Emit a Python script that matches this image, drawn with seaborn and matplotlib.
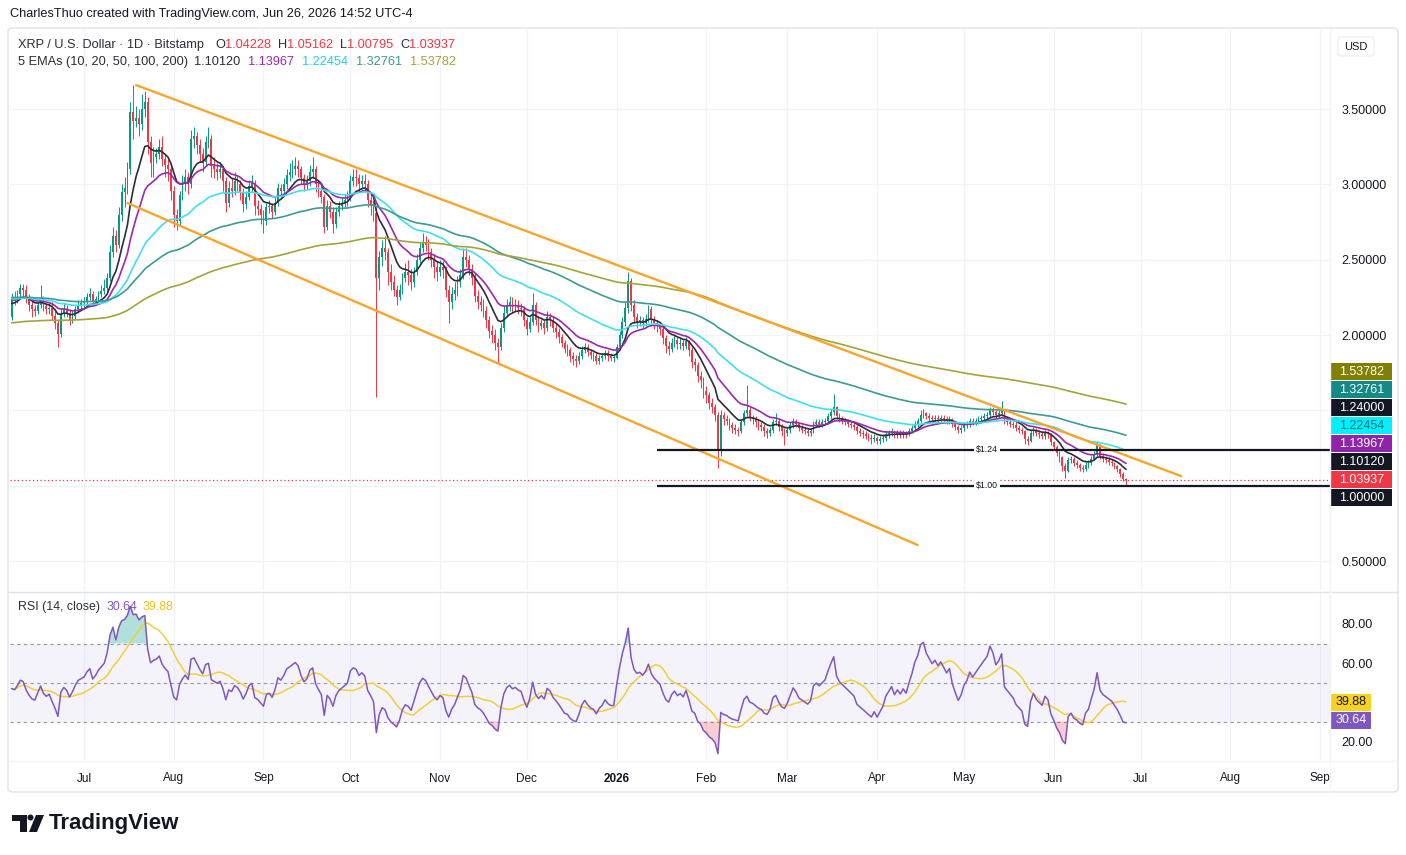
"""
XRP / USD daily chart (TradingView style) rebuilt with seaborn + matplotlib.
Candles, 5 EMAs, a falling channel, two support levels and an RSI pane.
"""
import datetime as dt

import numpy as np
import pandas as pd
import matplotlib
matplotlib.use("Agg")
import matplotlib.pyplot as plt
import matplotlib.dates as mdates
from matplotlib.patches import Rectangle, FancyBboxPatch, Ellipse, Polygon
from matplotlib.lines import Line2D
import seaborn as sns

# ---------------------------------------------------------------- data
start_date = "2025-06-06"
first_open = 2.12

close_jun25 = [2.25, 2.24, 2.27, 2.31, 2.30, 2.24, 2.20, 2.17, 2.16, 2.20, 2.24, 2.19, 2.17, 2.18, 2.13,
               2.08, 2.01, 2.14, 2.17, 2.15, 2.10, 2.13, 2.17, 2.20, 2.21]
close_jul25 = [2.22, 2.25, 2.27, 2.22, 2.24, 2.27, 2.29, 2.31, 2.38, 2.55, 2.66, 2.60, 2.80, 2.95, 2.98,
               3.10, 3.48, 3.42, 3.44, 3.40, 3.50, 3.55, 3.28, 3.14, 3.18, 3.20, 3.25, 3.17, 3.13, 3.10, 2.96]
close_aug25 = [2.80, 2.76, 2.93, 3.00, 3.05, 3.00, 3.30, 3.32, 3.26, 3.20, 3.15, 3.28, 3.30, 3.12, 3.10,
               3.08, 3.10, 3.02, 2.88, 2.98, 2.96, 3.02, 3.00, 2.95, 2.87, 2.92, 2.99, 3.01, 2.86, 2.84, 2.80]
close_sep25 = [2.76, 2.85, 2.86, 2.82, 2.88, 2.98, 2.96, 3.00, 3.06, 3.08, 3.10, 3.12, 3.10, 3.04, 3.00,
               3.02, 3.08, 3.10, 3.00, 2.96, 2.92, 2.72, 2.86, 2.82, 2.74, 2.82, 2.86, 2.88, 2.90, 2.92]
close_oct25 = [3.02, 3.05, 3.04, 3.00, 3.02, 3.00, 2.90, 2.86, 2.81, 2.38, 2.52, 2.58, 2.55, 2.42, 2.35,
               2.30, 2.25, 2.30, 2.38, 2.42, 2.40, 2.35, 2.42, 2.50, 2.58, 2.62, 2.60, 2.55, 2.50, 2.45, 2.42]
close_nov25 = [2.45, 2.43, 2.30, 2.22, 2.27, 2.30, 2.35, 2.40, 2.52, 2.50, 2.44, 2.38, 2.26, 2.22, 2.20,
               2.16, 2.10, 2.03, 2.00, 1.95, 1.92, 2.05, 2.15, 2.20, 2.22, 2.19, 2.20, 2.18, 2.17, 2.10]
close_dec25 = [2.04, 2.09, 2.20, 2.10, 2.06, 2.08, 2.05, 2.12, 2.10, 2.05, 2.02, 1.99, 1.95, 1.91, 1.90,
               1.86, 1.84, 1.83, 1.86, 1.90, 1.92, 1.89, 1.87, 1.86, 1.83, 1.85, 1.86, 1.88, 1.86, 1.85, 1.85]
close_jan26 = [1.92, 2.00, 2.09, 2.18, 2.36, 2.20, 2.12, 2.09, 2.10, 2.08, 2.11, 2.17, 2.11, 2.08, 2.06,
               2.04, 1.98, 1.93, 1.91, 1.95, 1.97, 1.94, 1.95, 1.93, 1.96, 1.90, 1.82, 1.80, 1.73, 1.70, 1.63]
close_feb26 = [1.60, 1.55, 1.52, 1.47, 1.23, 1.47, 1.44, 1.43, 1.40, 1.38, 1.37, 1.36, 1.42, 1.48, 1.50,
               1.45, 1.44, 1.42, 1.40, 1.39, 1.36, 1.35, 1.37, 1.42, 1.43, 1.39, 1.36, 1.35]
close_mar26 = [1.37, 1.40, 1.43, 1.41, 1.38, 1.37, 1.36, 1.35, 1.36, 1.41, 1.42, 1.41, 1.42, 1.43, 1.46,
               1.49, 1.52, 1.46, 1.44, 1.43, 1.42, 1.41, 1.40, 1.39, 1.36, 1.35, 1.34, 1.33, 1.32, 1.31, 1.32]
close_apr26 = [1.30, 1.31, 1.32, 1.34, 1.35, 1.36, 1.34, 1.35, 1.34, 1.35, 1.34, 1.36, 1.38, 1.41, 1.43,
               1.47, 1.48, 1.46, 1.45, 1.44, 1.45, 1.44, 1.45, 1.44, 1.43, 1.44, 1.41, 1.39, 1.37, 1.38]
close_may26 = [1.40, 1.41, 1.43, 1.42, 1.43, 1.44, 1.45, 1.46, 1.47, 1.50, 1.49, 1.47, 1.48, 1.50, 1.43,
               1.42, 1.41, 1.40, 1.38, 1.37, 1.36, 1.31, 1.30, 1.35, 1.37, 1.35, 1.34, 1.33, 1.35, 1.34, 1.29]
close_jun26 = [1.26, 1.22, 1.19, 1.13, 1.10, 1.17, 1.18, 1.15, 1.14, 1.12, 1.11, 1.14, 1.15, 1.18, 1.21,
               1.27, 1.20, 1.18, 1.17, 1.16, 1.15, 1.13, 1.11, 1.08, 1.04228, 1.03937]

high_jun25 = [2.28, 2.29, 2.30, 2.34, 2.34, 2.33, 2.27, 2.23, 2.20, 2.22, 2.33, 2.26, 2.21, 2.21, 2.22,
              2.16, 2.10, 2.17, 2.21, 2.20, 2.17, 2.16, 2.19, 2.23, 2.24]
high_jul25 = [2.25, 2.28, 2.31, 2.29, 2.26, 2.29, 2.33, 2.37, 2.41, 2.60, 2.72, 2.70, 2.85, 3.00, 3.05,
              3.15, 3.55, 3.66, 3.52, 3.50, 3.60, 3.62, 3.58, 3.32, 3.25, 3.24, 3.30, 3.32, 3.20, 3.18, 3.13]
high_aug25 = [2.99, 2.84, 2.96, 3.06, 3.10, 3.08, 3.36, 3.38, 3.35, 3.30, 3.24, 3.32, 3.38, 3.33, 3.18,
              3.14, 3.15, 3.12, 3.05, 3.02, 3.04, 3.08, 3.06, 3.03, 2.98, 2.96, 3.03, 3.06, 3.03, 2.90, 2.87]
high_sep25 = [2.83, 2.88, 2.90, 2.88, 2.92, 3.01, 3.00, 3.04, 3.10, 3.14, 3.16, 3.18, 3.16, 3.12, 3.07,
              3.06, 3.13, 3.18, 3.12, 3.03, 2.99, 2.94, 2.90, 2.89, 2.85, 2.85, 2.89, 2.91, 2.94, 2.96]
high_oct25 = [3.06, 3.10, 3.10, 3.07, 3.06, 3.07, 3.03, 2.94, 2.89, 2.85, 2.56, 2.63, 2.66, 2.58, 2.47,
              2.40, 2.33, 2.34, 2.41, 2.48, 2.50, 2.44, 2.45, 2.54, 2.62, 2.68, 2.66, 2.64, 2.58, 2.54, 2.49]
high_nov25 = [2.50, 2.49, 2.46, 2.33, 2.32, 2.35, 2.39, 2.44, 2.58, 2.58, 2.53, 2.47, 2.41, 2.30, 2.26,
              2.24, 2.19, 2.13, 2.07, 2.04, 1.98, 2.08, 2.19, 2.24, 2.26, 2.25, 2.24, 2.23, 2.21, 2.19]
high_dec25 = [2.12, 2.12, 2.28, 2.22, 2.13, 2.11, 2.10, 2.16, 2.15, 2.13, 2.08, 2.05, 2.01, 1.97, 1.94,
              1.92, 1.89, 1.87, 1.89, 1.93, 1.95, 1.94, 1.91, 1.89, 1.88, 1.87, 1.88, 1.90, 1.90, 1.88, 1.87]
high_jan26 = [1.94, 2.03, 2.12, 2.22, 2.42, 2.38, 2.23, 2.15, 2.13, 2.12, 2.14, 2.20, 2.19, 2.13, 2.10,
              2.08, 2.06, 2.00, 1.96, 1.98, 2.00, 1.99, 1.98, 1.97, 1.99, 1.97, 1.92, 1.85, 1.82, 1.76, 1.72]
high_feb26 = [1.66, 1.62, 1.58, 1.54, 1.49, 1.50, 1.49, 1.47, 1.45, 1.42, 1.41, 1.39, 1.44, 1.50, 1.67,
              1.52, 1.47, 1.46, 1.44, 1.42, 1.41, 1.38, 1.39, 1.44, 1.48, 1.44, 1.41, 1.38]
high_mar26 = [1.39, 1.42, 1.45, 1.44, 1.42, 1.40, 1.39, 1.38, 1.38, 1.43, 1.44, 1.44, 1.44, 1.45, 1.48,
              1.51, 1.61, 1.53, 1.48, 1.46, 1.45, 1.44, 1.43, 1.42, 1.40, 1.38, 1.37, 1.36, 1.35, 1.34, 1.34]
high_apr26 = [1.33, 1.33, 1.34, 1.36, 1.37, 1.38, 1.37, 1.37, 1.37, 1.37, 1.36, 1.38, 1.40, 1.43, 1.45,
              1.50, 1.51, 1.49, 1.48, 1.47, 1.47, 1.47, 1.47, 1.47, 1.46, 1.46, 1.45, 1.42, 1.40, 1.40]
high_may26 = [1.42, 1.43, 1.45, 1.45, 1.45, 1.46, 1.47, 1.48, 1.49, 1.52, 1.52, 1.51, 1.50, 1.56, 1.51,
              1.45, 1.44, 1.43, 1.42, 1.40, 1.39, 1.37, 1.33, 1.37, 1.39, 1.38, 1.37, 1.36, 1.37, 1.36, 1.35]
high_jun26 = [1.30, 1.27, 1.23, 1.20, 1.15, 1.19, 1.20, 1.19, 1.17, 1.15, 1.14, 1.16, 1.17, 1.20, 1.23,
              1.30, 1.28, 1.22, 1.20, 1.19, 1.18, 1.16, 1.14, 1.12, 1.09, 1.05162]

low_jun25 = [2.10, 2.20, 2.21, 2.25, 2.26, 2.21, 2.16, 2.12, 2.13, 2.14, 2.18, 2.16, 2.14, 2.14, 2.10,
             2.04, 1.92, 1.99, 2.12, 2.12, 2.07, 2.08, 2.11, 2.15, 2.17]
low_jul25 = [2.18, 2.19, 2.23, 2.19, 2.20, 2.22, 2.25, 2.27, 2.29, 2.36, 2.52, 2.55, 2.58, 2.76, 2.85,
             2.94, 3.07, 3.30, 3.38, 3.32, 3.36, 3.45, 3.20, 3.05, 3.05, 3.14, 3.17, 3.12, 3.05, 3.02, 2.90]
low_aug25 = [2.72, 2.70, 2.73, 2.90, 2.96, 2.94, 2.98, 3.24, 3.20, 3.15, 3.08, 3.12, 3.24, 3.05, 3.04,
             3.03, 3.04, 2.96, 2.82, 2.85, 2.92, 2.93, 2.96, 2.90, 2.82, 2.84, 2.90, 2.95, 2.80, 2.80, 2.74]
low_sep25 = [2.68, 2.73, 2.81, 2.78, 2.80, 2.86, 2.92, 2.93, 2.97, 3.02, 3.04, 3.06, 3.05, 3.00, 2.96,
             2.97, 2.99, 3.04, 2.95, 2.92, 2.88, 2.68, 2.70, 2.78, 2.68, 2.71, 2.79, 2.83, 2.85, 2.86]
low_oct25 = [2.89, 2.99, 2.99, 2.96, 2.97, 2.95, 2.85, 2.80, 2.76, 1.59, 2.30, 2.46, 2.50, 2.33, 2.30,
             2.26, 2.20, 2.23, 2.27, 2.35, 2.33, 2.30, 2.32, 2.40, 2.48, 2.55, 2.56, 2.50, 2.45, 2.38, 2.36]
low_nov25 = [2.39, 2.38, 2.25, 2.08, 2.17, 2.23, 2.26, 2.32, 2.37, 2.45, 2.40, 2.33, 2.22, 2.17, 2.16,
             2.12, 2.05, 1.98, 1.95, 1.90, 1.81, 1.90, 2.02, 2.12, 2.16, 2.15, 2.16, 2.14, 2.13, 2.06]
low_dec25 = [2.00, 2.02, 2.07, 2.07, 2.02, 2.04, 2.01, 2.03, 2.06, 2.02, 1.98, 1.95, 1.92, 1.88, 1.86,
             1.82, 1.80, 1.79, 1.81, 1.84, 1.88, 1.86, 1.84, 1.83, 1.81, 1.81, 1.83, 1.84, 1.83, 1.83, 1.82]
low_jan26 = [1.84, 1.90, 1.98, 2.06, 2.15, 2.16, 2.08, 2.05, 2.06, 2.05, 2.06, 2.09, 2.08, 2.04, 2.02,
             2.00, 1.94, 1.88, 1.87, 1.89, 1.92, 1.91, 1.91, 1.90, 1.91, 1.86, 1.78, 1.76, 1.69, 1.65, 1.58]
low_feb26 = [1.55, 1.51, 1.48, 1.43, 1.12, 1.20, 1.40, 1.40, 1.37, 1.35, 1.34, 1.33, 1.35, 1.40, 1.46,
             1.43, 1.41, 1.39, 1.37, 1.36, 1.33, 1.32, 1.33, 1.35, 1.40, 1.36, 1.33, 1.27]
low_mar26 = [1.33, 1.35, 1.38, 1.39, 1.36, 1.35, 1.34, 1.33, 1.33, 1.35, 1.39, 1.39, 1.39, 1.40, 1.41,
             1.44, 1.47, 1.44, 1.42, 1.41, 1.40, 1.39, 1.38, 1.37, 1.34, 1.33, 1.32, 1.31, 1.30, 1.28, 1.29]
low_apr26 = [1.28, 1.28, 1.29, 1.30, 1.32, 1.33, 1.32, 1.32, 1.32, 1.32, 1.32, 1.33, 1.35, 1.37, 1.39,
             1.42, 1.45, 1.44, 1.43, 1.42, 1.42, 1.42, 1.42, 1.42, 1.41, 1.41, 1.39, 1.37, 1.35, 1.35]
low_may26 = [1.36, 1.38, 1.39, 1.40, 1.40, 1.41, 1.42, 1.43, 1.44, 1.45, 1.47, 1.45, 1.45, 1.46, 1.41,
             1.40, 1.39, 1.38, 1.36, 1.35, 1.34, 1.28, 1.27, 1.29, 1.33, 1.33, 1.32, 1.31, 1.31, 1.32, 1.27]
low_jun26 = [1.24, 1.20, 1.16, 1.10, 1.05, 1.09, 1.15, 1.13, 1.12, 1.10, 1.09, 1.10, 1.12, 1.14, 1.17,
             1.20, 1.18, 1.16, 1.15, 1.14, 1.13, 1.11, 1.09, 1.06, 1.03, 1.00795]

# EMA settings and the values the EMAs sit at on the first visible candle
ema_spans = [10, 20, 50, 100, 200]
ema_seed = [2.20, 2.23, 2.24, 2.25, 2.08]
ema_last = [1.10120, 1.13967, 1.22454, 1.32761, 1.53782]

# RSI(14): average gain/loss carried in from before the first candle
rsi_seed_gain = 0.030
rsi_seed_loss = 0.034
rsi_last = [30.64, 39.88]

# legend numbers of the last candle
ohlc_names = ["O", "H", "L", "C"]
ohlc_last = [1.04228, 1.05162, 1.00795, 1.03937]
last_price = 1.03937

# drawings: falling channel and two support lines
channel_upper = [("2025-07-19", 3.66), ("2026-07-15", 1.064)]
channel_lower = [("2025-07-16", 2.877), ("2026-04-15", 0.606)]
support_levels = [1.24, 1.00]
support_text = ["$1.24", "$1.00"]
support_from = "2026-01-15"
support_label_at = "2026-05-09"

price_ticks = [0.5, 2.0, 2.5, 3.0, 3.5]
rsi_ticks = [20, 60, 80]
month_labels = ["Jul", "Aug", "Sep", "Oct", "Nov", "Dec", "2026", "Feb", "Mar", "Apr", "May", "Jun",
                "Jul", "Aug", "Sep"]

# ---------------------------------------------------------------- styling
TEXT = "#131722"
UP, DOWN = "#089981", "#f23645"
EMA_LINE = ["#2a2e39", "#9c27b0", "#3fe0ee", "#3a9c95", "#a4a43a"]
EMA_TEXT = ["#2a2e39", "#9c27b0", "#19d3e6", "#3a9c95", "#a4a43a"]
EMA_BOX = ["#131722", "#8e24aa", "#00f0ff", "#138a85", "#808000"]
EMA_BOX_TEXT = ["white", "white", "#10706f", "white", "white"]
ORANGE = "#f9a52b"
RSI_COL, RSI_MA_COL = "#7e57c2", "#f2cf3a"
GRID = "#f0f3fa"
BORDER = "#e0e3eb"

W, H = 1406, 855


def fx(px):
    return px / W


def fy(py):
    return 1 - py / H


closes = (close_jun25 + close_jul25 + close_aug25 + close_sep25 + close_oct25 + close_nov25 + close_dec25
          + close_jan26 + close_feb26 + close_mar26 + close_apr26 + close_may26 + close_jun26)
highs = (high_jun25 + high_jul25 + high_aug25 + high_sep25 + high_oct25 + high_nov25 + high_dec25
         + high_jan26 + high_feb26 + high_mar26 + high_apr26 + high_may26 + high_jun26)
lows = (low_jun25 + low_jul25 + low_aug25 + low_sep25 + low_oct25 + low_nov25 + low_dec25
        + low_jan26 + low_feb26 + low_mar26 + low_apr26 + low_may26 + low_jun26)
assert len(closes) == len(highs) == len(lows), (len(closes), len(highs), len(lows))

dates = pd.date_range(start_date, periods=len(closes), freq="D")
df = pd.DataFrame({"date": mdates.date2num(dates.to_pydatetime()), "close": closes})
df["open"] = df["close"].shift(1).fillna(first_open)
df["high"] = np.maximum.reduce([np.array(highs), df["open"].values, df["close"].values])
df["low"] = np.minimum.reduce([np.array(lows), df["open"].values, df["close"].values])

# EMAs, seeded with the level read at the left edge
ema_frames = []
for span, seed in zip(ema_spans, ema_seed):
    s = pd.concat([pd.Series([seed]), df["close"]], ignore_index=True)
    vals = s.ewm(span=span, adjust=False).mean().iloc[1:].to_numpy()
    ema_frames.append(pd.DataFrame({"date": df["date"], "value": vals, "ema": f"EMA{span}"}))
ema_df = pd.concat(ema_frames, ignore_index=True)

# RSI (Wilder) + its 14-bar SMA
delta = df["close"].diff().fillna(0)
gain = pd.concat([pd.Series([rsi_seed_gain]), delta.clip(lower=0)], ignore_index=True)
loss = pd.concat([pd.Series([rsi_seed_loss]), (-delta).clip(lower=0)], ignore_index=True)
avg_gain = gain.ewm(alpha=1 / 14, adjust=False).mean().iloc[1:].to_numpy()
avg_loss = loss.ewm(alpha=1 / 14, adjust=False).mean().iloc[1:].to_numpy()
df["rsi"] = 100 - 100 / (1 + avg_gain / avg_loss)
df["rsi_ma"] = df["rsi"].rolling(14, min_periods=1).mean()

# ---------------------------------------------------------------- figure
sns.set_theme(style="white")
plt.rcParams["font.family"] = ["Liberation Sans", "DejaVu Sans"]

fig = plt.figure(figsize=(W / 100, H / 100), dpi=100)
fig.patch.set_facecolor("white")

PRICE_TOP, PRICE_BOT = 30, 590
RSI_TOP, RSI_BOT = 593, 760
PLOT_L, PLOT_R = 10, 1330
ax = fig.add_axes([fx(PLOT_L), fy(PRICE_BOT), fx(PLOT_R) - fx(PLOT_L), fy(PRICE_TOP) - fy(PRICE_BOT)])
ax_rsi = fig.add_axes([fx(PLOT_L), fy(RSI_BOT), fx(PLOT_R) - fx(PLOT_L), fy(RSI_TOP) - fy(RSI_BOT)],
                      sharex=ax)

x_jul1 = mdates.date2num(dt.datetime(2025, 7, 1))
px_per_day = 2.8946
ax.set_xlim(x_jul1 - (84 - PLOT_L) / px_per_day, x_jul1 + (PLOT_R - 84) / px_per_day)
price_lim = (0.5 - (PRICE_BOT - 561) / 150.6, 0.5 + (561 - PRICE_TOP) / 150.6)
rsi_lim = (20 - (RSI_BOT - 741) / 1.95, 80 + (624 - RSI_TOP) / 1.95)
ax.set_ylim(*price_lim)
ax_rsi.set_ylim(*rsi_lim)


def py_price(v):
    return PRICE_TOP + (price_lim[1] - v) / (price_lim[1] - price_lim[0]) * (PRICE_BOT - PRICE_TOP)


def py_rsi(v):
    return RSI_TOP + (rsi_lim[1] - v) / (rsi_lim[1] - rsi_lim[0]) * (RSI_BOT - RSI_TOP)


for a in (ax, ax_rsi):
    for sp in a.spines.values():
        sp.set_visible(False)
    a.set_facecolor("white")

# grid
month_ticks = mdates.date2num(pd.date_range("2025-07-01", periods=len(month_labels), freq="MS").to_pydatetime())
for m in month_ticks:
    ax.axvline(m, color=GRID, lw=0.9, zorder=0)
    ax_rsi.axvline(m, color=GRID, lw=0.9, zorder=0)
for g in np.arange(0.5, 4.0, 0.5):
    ax.axhline(g, color=GRID, lw=0.9, zorder=0)

# candles
up = df["close"] >= df["open"]
colors = np.where(up, UP, DOWN)
body_lo = np.minimum(df["open"], df["close"])
body_h = np.maximum(np.abs(df["close"] - df["open"]), 0.004)
ax.vlines(df["date"], df["low"], df["high"], colors=colors, lw=0.7, zorder=2)
ax.bar(df["date"], body_h, bottom=body_lo, width=0.62, color=colors, linewidth=0, zorder=2)

# EMAs
sns.lineplot(data=ema_df, x="date", y="value", hue="ema",
             palette=dict(zip([f"EMA{s}" for s in ema_spans], EMA_LINE)),
             linewidth=1.2, legend=False, ax=ax, zorder=3, estimator=None, sort=False)
ax.set_xlabel("")
ax.set_ylabel("")

# channel
for pts in (channel_upper, channel_lower):
    xs = mdates.date2num([pd.Timestamp(d).to_pydatetime() for d, _ in pts])
    ys = [v for _, v in pts]
    ax.plot(xs, ys, color=ORANGE, lw=1.7, zorder=4, solid_capstyle="round")

# support levels
x_from = mdates.date2num(pd.Timestamp(support_from).to_pydatetime())
x_lab = mdates.date2num(pd.Timestamp(support_label_at).to_pydatetime())
for lvl, txt in zip(support_levels, support_text):
    ax.plot([x_from, ax.get_xlim()[1]], [lvl, lvl], color=TEXT, lw=1.6, zorder=4, solid_capstyle="butt")
    ax.text(x_lab, lvl, txt, fontsize=6.3, color=TEXT, ha="center", va="center", zorder=5,
            bbox=dict(boxstyle="square,pad=0.25", fc="white", ec="none"))

# last price dotted line
ax.axhline(last_price, color=DOWN, lw=0.9, ls=(0, (1, 2)), zorder=3)

# price axis
ax.yaxis.tick_right()
ax.set_yticks(price_ticks)
ax.set_yticklabels([f"{v:.5f}" for v in price_ticks])
ax.tick_params(axis="y", length=0, pad=8, labelsize=9, colors=TEXT)
ax.tick_params(axis="x", length=0, labelbottom=False)

# ---- RSI pane
ax_rsi.axhspan(30, 70, color=RSI_COL, alpha=0.07, lw=0, zorder=0)
for lvl in (70, 50, 30):
    ax_rsi.axhline(lvl, color="#9598a1", lw=0.8, ls=(0, (3, 3)), zorder=1)
ax_rsi.fill_between(df["date"], 70, df["rsi"], where=df["rsi"] > 70, interpolate=True,
                    color="#26a69a", alpha=0.35, lw=0, zorder=1)
ax_rsi.fill_between(df["date"], 30, df["rsi"], where=df["rsi"] < 30, interpolate=True,
                    color=DOWN, alpha=0.25, lw=0, zorder=1)
sns.lineplot(x=df["date"], y=df["rsi_ma"], color=RSI_MA_COL, linewidth=1.1, ax=ax_rsi, zorder=2)
sns.lineplot(x=df["date"], y=df["rsi"], color=RSI_COL, linewidth=1.1, ax=ax_rsi, zorder=3)
ax_rsi.set_xlabel("")
ax_rsi.set_ylabel("")
ax_rsi.yaxis.tick_right()
ax_rsi.set_yticks(rsi_ticks)
ax_rsi.set_yticklabels([f"{v:.2f}" for v in rsi_ticks])
ax_rsi.tick_params(axis="y", length=0, pad=8, labelsize=9, colors=TEXT)

ax_rsi.set_xticks(month_ticks)
ax_rsi.set_xticklabels(month_labels)
ax_rsi.tick_params(axis="x", length=0, pad=9, labelsize=8.5, colors=TEXT)
for lbl in ax_rsi.get_xticklabels():
    if lbl.get_text().isdigit():
        lbl.set_fontweight("bold")

# ---------------------------------------------------------------- frame / chrome
fig.add_artist(FancyBboxPatch((fx(8), fy(792)), fx(1398) - fx(8), fy(28) - fy(792),
                              boxstyle="round,pad=0,rounding_size=0.004", fill=False,
                              ec=BORDER, lw=1, transform=fig.transFigure))
fig.add_artist(Line2D([fx(8), fx(1398)], [fy(591.5), fy(591.5)], color=BORDER, lw=1))
fig.add_artist(Line2D([fx(8), fx(1398)], [fy(761), fy(761)], color="#f3f4f7", lw=1))
fig.add_artist(Line2D([fx(PLOT_R), fx(PLOT_R)], [fy(792), fy(28)], color="#f3f4f7", lw=1))

fig.text(fx(10), fy(14), "CharlesThuo created with TradingView.com, Jun 26, 2026 14:52 UTC-4",
         fontsize=9.2, color=TEXT, va="center", ha="left")

renderer = fig.canvas.get_renderer()


def draw_segments(x_px, y_px, segments, size=9.2):
    """Write coloured text pieces one after another; a segment is (text, colour, gap_after_px)."""
    x = x_px
    for text, color, gap in segments:
        t = fig.text(fx(x), fy(y_px), text, color=color, fontsize=size, va="center", ha="left")
        x += t.get_window_extent(renderer=renderer).width + gap
    return x


seg1 = [("XRP / U.S. Dollar · 1D · Bitstamp", "#2a2e39", 11)]
for name, val in zip(ohlc_names, ohlc_last):
    seg1 += [(name, "#2a2e39", 0), (f"{val:.5f}", DOWN, 7)]
draw_segments(18, 45, seg1)

seg2 = [("5 EMAs (10, 20, 50, 100, 200)", "#2a2e39", 6)]
for val, col in zip(ema_last, EMA_TEXT):
    seg2.append((f"{val:.5f}", col, 8))
draw_segments(18, 62, seg2)

draw_segments(18, 607, [("RSI (14, close)", "#2a2e39", 7), (f"{rsi_last[0]:.2f}", RSI_COL, 5),
                        (f"{rsi_last[1]:.2f}", "#f0c419", 0)], size=8.9)

# USD button
fig.add_artist(FancyBboxPatch((fx(1338), fy(56)), fx(36), fy(37) - fy(56),
                              boxstyle="round,pad=0,rounding_size=0.003", fc="white", ec="#eceef2",
                              lw=0.8, transform=fig.transFigure))
fig.text(fx(1356), fy(46.5), "USD", fontsize=8, color=TEXT, ha="center", va="center")

# price-scale label boxes, stacked around the last price like TradingView does
box_items = [(v, f"{v:.5f}", fc, tc) for v, fc, tc in zip(ema_last, EMA_BOX, EMA_BOX_TEXT)]
box_items += [(lvl, f"{lvl:.5f}", "#131722", "white") for lvl in support_levels]
box_items.append((last_price, f"{last_price:.5f}", DOWN, "white"))
box_items.sort(key=lambda it: -it[0])
i_cur = [it[0] for it in box_items].index(last_price)
y_cur = py_price(last_price)
for i, (v, txt, fc, tc) in enumerate(box_items):
    yc = y_cur + (i - i_cur) * 18
    fig.add_artist(Rectangle((fx(1331), fy(yc + 8.5)), fx(61), fy(yc - 8.5) - fy(yc + 8.5),
                             fc=fc, ec="none", transform=fig.transFigure))
    fig.text(fx(1361.5), fy(yc), txt, fontsize=9, color=tc, ha="center", va="center")

for v, fc, tc in zip(rsi_last, [RSI_COL, "#f7d21e"], ["white", TEXT]):
    yc = py_rsi(v)
    fig.add_artist(Rectangle((fx(1331), fy(yc + 8.5)), fx(40), fy(yc - 8.5) - fy(yc + 8.5),
                             fc=fc, ec="none", transform=fig.transFigure))
    fig.text(fx(1351), fy(yc), f"{v:.2f}", fontsize=9, color=tc, ha="center", va="center")

# TradingView logo
LOGO = "#131722"
fig.add_artist(Rectangle((fx(12), fy(821)), fx(15), fy(815) - fy(821), fc=LOGO, ec="none",
                         transform=fig.transFigure))
fig.add_artist(Rectangle((fx(20), fy(832)), fx(7), fy(815) - fy(832), fc=LOGO, ec="none",
                         transform=fig.transFigure))
fig.add_artist(Ellipse((fx(30.5), fy(817.5)), 6 / W, 6 / H, fc=LOGO, ec="none", transform=fig.transFigure))
fig.add_artist(Polygon([(fx(36), fy(815)), (fx(44), fy(815)), (fx(37), fy(832)), (fx(29), fy(832))],
                       closed=True, fc=LOGO, ec="none", transform=fig.transFigure))
fig.text(fx(49), fy(823), "TradingView", fontsize=16, fontweight="bold", color=LOGO,
         ha="left", va="center")

fig.savefig("out.png", dpi=100, facecolor="white")
